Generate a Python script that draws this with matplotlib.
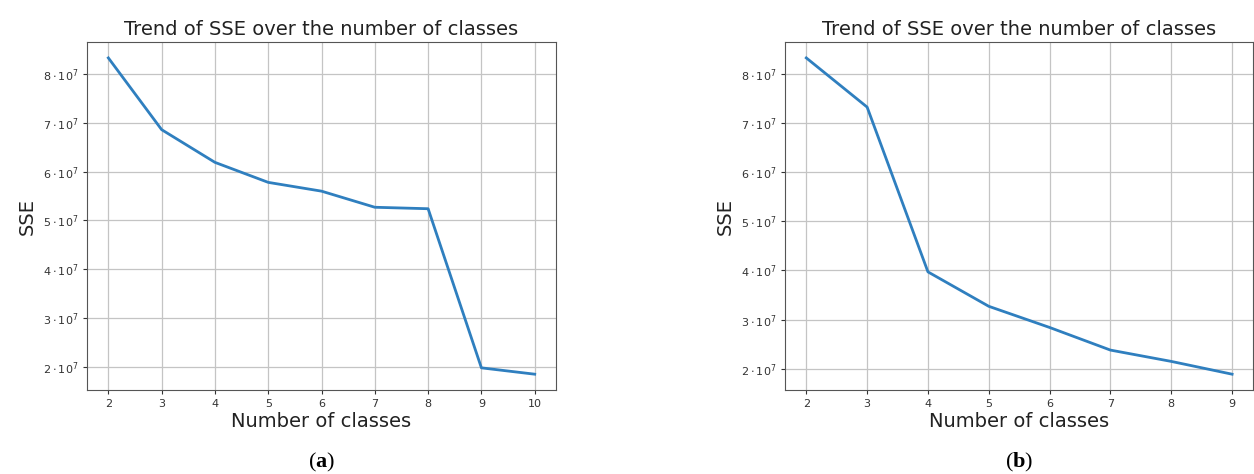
import matplotlib
matplotlib.use("Agg")
import matplotlib.pyplot as plt
from matplotlib.ticker import FuncFormatter, MultipleLocator

plt.rcParams["mathtext.fontset"] = "custom"
plt.rcParams["mathtext.rm"] = "DejaVu Sans"
plt.rcParams["mathtext.bf"] = "Liberation Serif:bold"

# SSE per number of classes, two clustering runs
classes_a = [2, 3, 4, 5, 6, 7, 8, 9, 10]
sse_a = [8.33e7, 6.86e7, 6.19e7, 5.78e7, 5.60e7, 5.27e7, 5.24e7, 1.98e7, 1.85e7]

classes_b = [2, 3, 4, 5, 6, 7, 8, 9]
sse_b = [8.32e7, 7.32e7, 3.97e7, 3.27e7, 2.84e7, 2.38e7, 2.15e7, 1.89e7]

panel_tags = ["a", "b"]


def sci_fmt(v, _pos):
    if v <= 0:
        return ""
    return r"$%d\cdot10^{7}$" % round(v / 1e7)


fig = plt.figure(figsize=(12.54, 4.74), dpi=100)
axes = [fig.add_axes([0.0694, 0.1772, 0.374, 0.734]),
        fig.add_axes([0.626, 0.1772, 0.3735, 0.734])]

for ax, x, y, tag in zip(axes, [classes_a, classes_b], [sse_a, sse_b], panel_tags):
    ax.plot(x, y, color="#2f7fbf", lw=2.0)
    ax.set_xticks(x)
    ax.yaxis.set_major_locator(MultipleLocator(1e7))
    ax.yaxis.set_major_formatter(FuncFormatter(sci_fmt))
    ax.tick_params(labelsize=8, colors="#333333", length=3)
    ax.grid(True, color="#c4c4c4", lw=0.9)
    for s in ax.spines.values():
        s.set_color("#555555")
    ax.set_title("Trend of SSE over the number of classes", fontsize=14,
                 color="#222222", pad=5)
    ax.set_xlabel("Number of classes", fontsize=14, color="#222222", labelpad=2)
    ax.set_ylabel("SSE", fontsize=14, color="#222222", labelpad=4)
    bb = ax.get_position()
    fig.text(bb.x0 + bb.width / 2, 0.0, r"(" + r"$\mathbf{%s}$" % tag + ")",
             ha="center", va="bottom", fontsize=16, family="Liberation Serif")

fig.savefig("out.png", dpi=100)
